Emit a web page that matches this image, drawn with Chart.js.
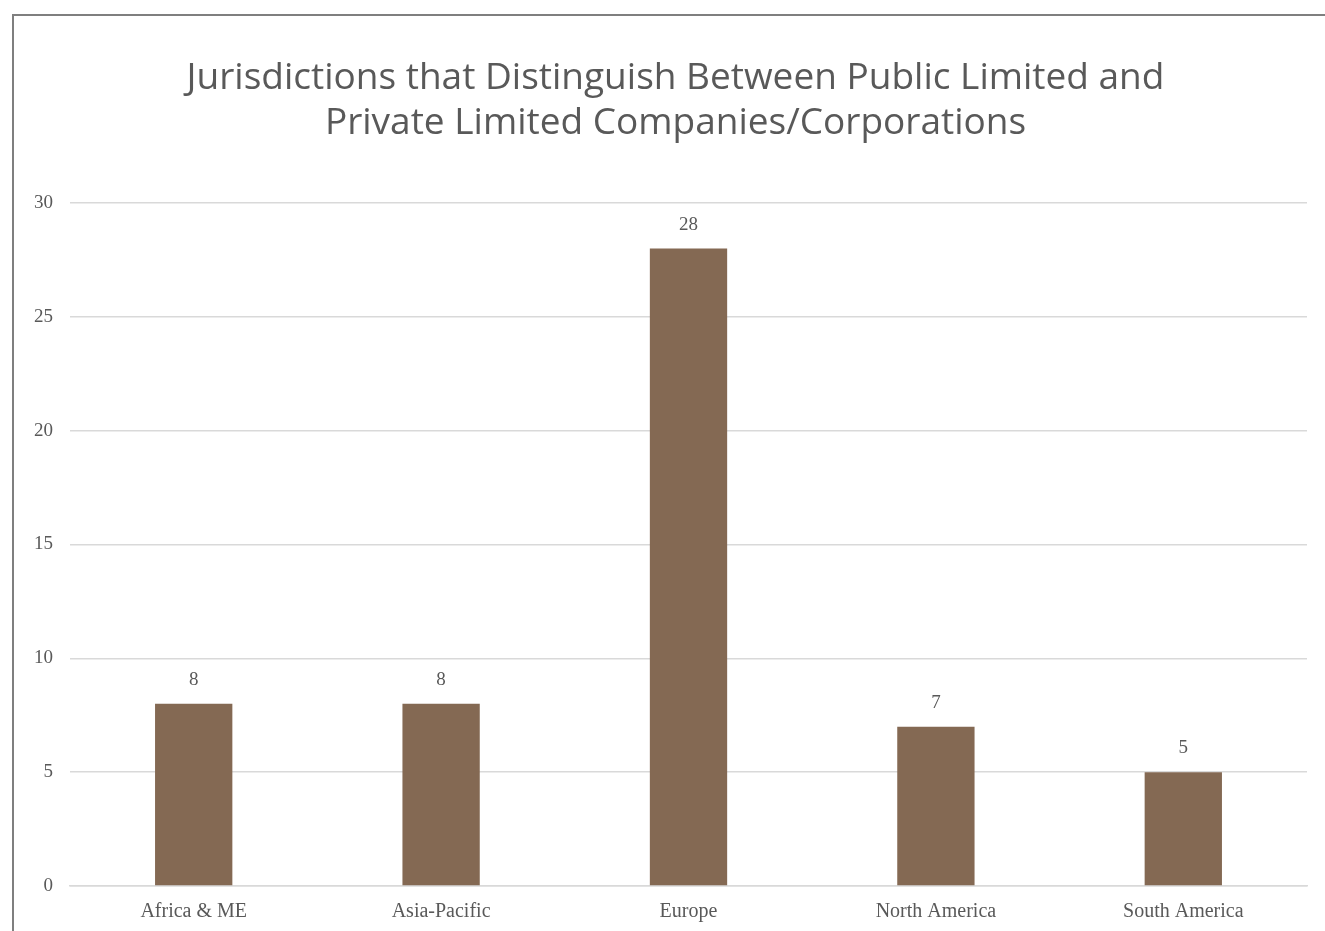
<!DOCTYPE html>
<html>
<head>
<meta charset="utf-8">
<script src="https://cdn.jsdelivr.net/npm/chart.js@4/dist/chart.umd.min.js"></script>
<style>
  html, body { margin: 0; padding: 0; background: #fff; overflow: hidden; }
  #frame { position: absolute; left: 12px; top: 14px; width: 1330px; height: 940px;
           border-left: 2px solid #7f7f7f; border-top: 2px solid #7f7f7f; }
  #wrap { position: absolute; left: 14px; top: 16px; width: 1311px; height: 915px; }
</style>
</head>
<body>
<div id="frame"></div>
<div id="wrap"><canvas id="c"></canvas></div>
<script>
const categories = ["Africa & ME", "Asia-Pacific", "Europe", "North America", "South America"];
const values = [8, 8, 28, 7, 5];
const yTicks = [0, 5, 10, 15, 20, 25, 30];
const titleLines = ["Jurisdictions that Distinguish Between Public Limited and", "Private Limited Companies/Corporations"];

const labelPlugin = {
  id: 'barLabels',
  afterDatasetsDraw(chart) {
    const ctx = chart.ctx;
    const meta = chart.getDatasetMeta(0);
    ctx.save();
    ctx.font = '19px "Liberation Serif", serif';
    ctx.fillStyle = '#595959';
    ctx.textAlign = 'center';
    ctx.textBaseline = 'middle';
    meta.data.forEach((bar, i) => {
      ctx.fillText(String(values[i]), bar.x, bar.y - 24);
    });
    ctx.restore();
  }
};

const titlePlugin = {
  id: 'offsetTitle',
  afterDraw(chart) {
    const ctx = chart.ctx;
    ctx.save();
    ctx.font = '37px "Open Sans", Lato, sans-serif';
    ctx.fillStyle = '#595959';
    ctx.textAlign = 'center';
    ctx.textBaseline = 'middle';
    const cx = chart.width / 2 + 6;
    titleLines.forEach((line, i) => {
      ctx.fillText(line, cx, 62.6 + i * 45.1);
    });
    ctx.restore();
  }
};

new Chart(document.getElementById('c'), {
  type: 'bar',
  data: {
    labels: categories,
    datasets: [{
      data: values,
      backgroundColor: '#846953',
      barPercentage: 0.625,
      categoryPercentage: 0.5
    }]
  },
  options: {
    responsive: true,
    maintainAspectRatio: false,
    animation: false,
    layout: { padding: { left: 0, right: 18, top: 187, bottom: 0 } },
    plugins: {
      legend: { display: false },
      tooltip: { enabled: false },
      title: { display: false }
    },
    scales: {
      x: {
        afterFit(scale) { scale.height = 45; },
        grid: { display: false, drawTicks: false },
        border: { display: true, color: '#d9d9d9', width: 1.5 },
        ticks: { color: '#595959', font: { family: '"Liberation Serif", serif', size: 20 }, padding: 14 }
      },
      y: {
        min: 0, max: 30,
        afterFit(scale) { scale.width = 56; },
        afterBuildTicks(scale) { scale.ticks = yTicks.map(v => ({ value: v })); },
        grid: { color: '#d9d9d9', lineWidth: 1.5, drawTicks: false },
        border: { display: false },
        ticks: { color: '#595959', font: { family: '"Liberation Serif", serif', size: 19 }, padding: 17 }
      }
    }
  },
  plugins: [labelPlugin, titlePlugin]
});
</script>
</body>
</html>
